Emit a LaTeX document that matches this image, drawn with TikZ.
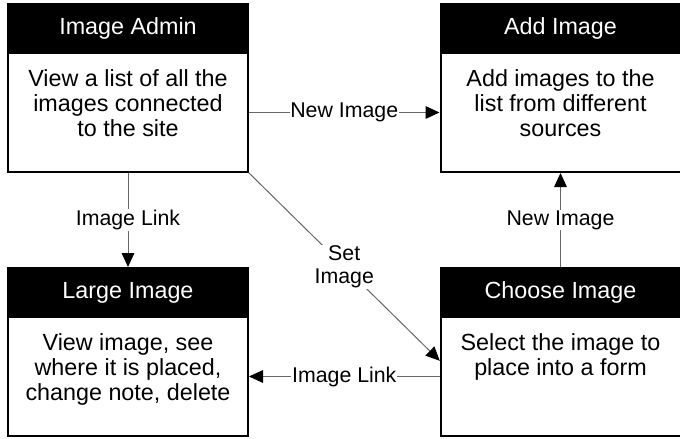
\documentclass[tikz,border=0pt]{standalone}
\usepackage{fontspec}
\setmainfont{Liberation Sans}
\usetikzlibrary{positioning,arrows.meta}

\begin{document}
\begin{tikzpicture}[
    x = 0.75pt, y = -0.75pt,
    every node/.style = {outer sep = 0pt},
    headbox/.style = {
        draw, line width = 1.5pt, fill = black, text = white,
        minimum width = 180pt, minimum height = 36.75pt,
        font = \fontsize{17.5}{18.75}\selectfont},
    bodybox/.style = {
        draw, line width = 1.5pt, fill = white,
        minimum width = 180pt, minimum height = 89.25pt},
    bodytext/.style = {
        align = center, inner sep = 0pt,
        font = \fontsize{17.5}{18.75}\selectfont},
    link/.style = {
        draw = black!60, line width = 0.75pt,
        shorten < = 0.75pt, shorten > = 0.75pt,
        -{Triangle[length = 10.5pt, width = 9.5pt, color = black]}},
    linklabel/.style = {
        fill = white, inner sep = 0.5pt, align = center,
        font = \fontsize{16}{17.25}\selectfont}
]
\useasboundingbox (0,0) rectangle (680,438);

% screens
\node[headbox] (adminhead) at (128,28.5) {Image Admin};
\node[bodybox, below = 0pt of adminhead] (admin) {};
\node[bodytext, below = 12.4pt of admin.north] {View a list of all the\\images connected\\to the site};

\node[headbox] (addhead) at (560.5,28.5) {Add Image};
\node[bodybox, below = 0pt of addhead] (addimg) {};
\node[bodytext, below = 12.4pt of addimg.north] {Add images to the\\list from different\\sources};

\node[headbox] (largehead) at (128,292.5) {Large Image};
\node[bodybox, below = 0pt of largehead] (large) {};
\node[bodytext, below = 12.4pt of large.north] {View image, see\\where it is placed,\\change note, delete};

\node[headbox] (choosehead) at (560.5,292.5) {Choose Image};
\node[bodybox, below = 0pt of choosehead] (choose) {};
\node[bodytext, below = 12.4pt of choose.north] {Select the image to\\place into a form};

% links
\coordinate (setend) at ([yshift = 11.25pt]choose.west);
\draw[link] (admin) -- node[linklabel] {New Image} (addimg);
\draw[link] (admin) -- node[linklabel] {Image Link} (largehead);
\draw[link] (choosehead) -- node[linklabel] {New Image} (addimg);
\draw[link] (admin.south east) -- node[linklabel] {Set\\Image} (setend);
\draw[link] (choose.west) -- node[linklabel] {Image Link} (large.east);

\end{tikzpicture}
\end{document}
